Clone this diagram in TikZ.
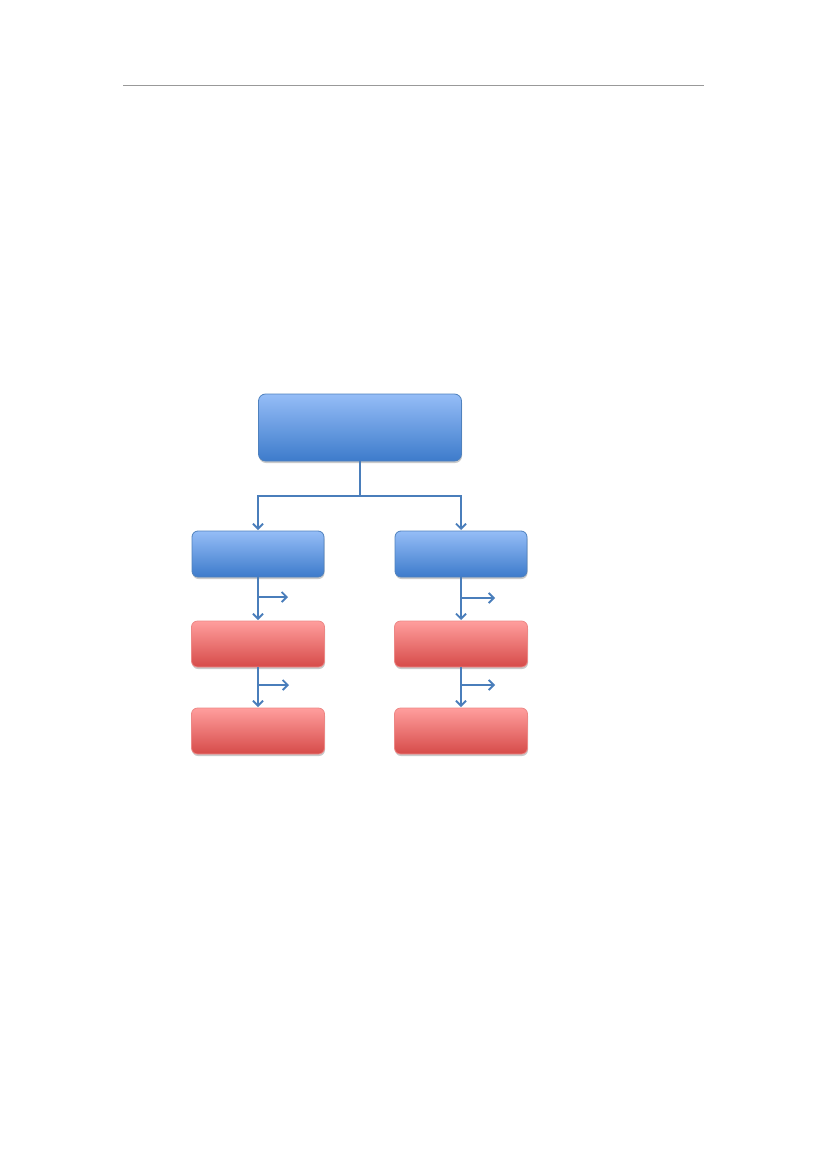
\documentclass[tikz,border=0pt]{standalone}
\usetikzlibrary{arrows.meta,shadows}
\definecolor{bluetop}{HTML}{95BDF7}
\definecolor{bluebot}{HTML}{3D7BCB}
\definecolor{blueedge}{HTML}{4F81BD}
\definecolor{redtop}{HTML}{FF9E9D}
\definecolor{redbot}{HTML}{D64B49}
\definecolor{rededge}{HTML}{C0504D}
\definecolor{linec}{HTML}{4A7EBB}
\tikzset{
  x=1pt,y=-1pt,
  boxbase/.style={inner sep=0pt,outer sep=0pt,line width=0.8pt,
    drop shadow={shadow xshift=0.5pt,shadow yshift=-2pt,opacity=0.35,fill=black!60}},
  bluebox/.style={boxbase,draw=blueedge,rounded corners=7pt,top color=bluetop,bottom color=bluebot},
  redbox/.style={boxbase,draw=redtop!70!rededge,rounded corners=6pt,top color=redtop,bottom color=redbot,
    minimum width=133pt,minimum height=46pt},
  midbox/.style={bluebox,rounded corners=6pt,minimum width=132pt,minimum height=46pt},
  conn/.style={draw=linec,line width=2.4pt},
  arr/.style={conn,-{Straight Barb[length=5pt,width=10pt,line width=1.8pt]}}
}
\begin{document}
\begin{tikzpicture}
\useasboundingbox (0,0) rectangle (826,1169);
\draw[gray!80,line width=1pt] (123,86) -- (704,86);
% boxes
\node[bluebox,minimum width=203pt,minimum height=67pt] (top) at (360,427.5) {};
\node[midbox] (lm) at (258,554) {};
\node[midbox] (rm) at (461,554) {};
\node[redbox] (lr1) at (258,644) {};
\node[redbox] (rr1) at (461,644) {};
\node[redbox] (lr2) at (258,731) {};
\node[redbox] (rr2) at (461,731) {};
% junction and branch coordinates
\coordinate (j) at (360,496);
\coordinate (ls1e) at (288,597);
\coordinate (rs1e) at (495,598);
\coordinate (ls2e) at (289,685);
\coordinate (rs2e) at (495,685);
% connectors
\draw[conn] (top.south) -- (j);
\draw[arr] (j) -| ([yshift=1pt]lm.north);
\draw[arr] (j) -| ([yshift=1pt]rm.north);
\draw[arr] (lm.south) -- ([yshift=1pt]lr1.north);
\draw[arr] (rm.south) -- ([yshift=1pt]rr1.north);
\draw[arr] (lr1.south) -- ([yshift=1pt]lr2.north);
\draw[arr] (rr1.south) -- ([yshift=1pt]rr2.north);
\draw[arr] (ls1e-|lm.south) -- (ls1e);
\draw[arr] (rs1e-|rm.south) -- (rs1e);
\draw[arr] (ls2e-|lm.south) -- (ls2e);
\draw[arr] (rs2e-|rm.south) -- (rs2e);
\end{tikzpicture}
\end{document}
